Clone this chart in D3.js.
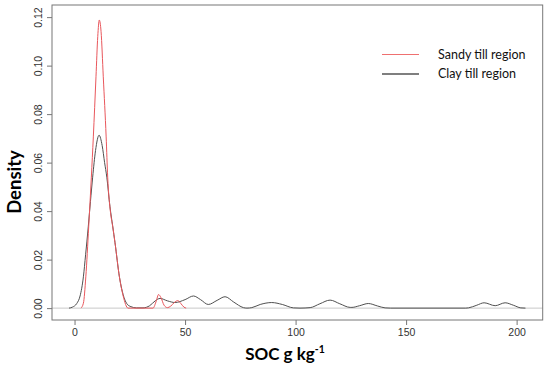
<!DOCTYPE html>
<html>
<head>
<meta charset="utf-8">
<script src="https://cdn.jsdelivr.net/npm/d3@7"></script>
<style>
  body { margin: 0; background: #fff; }
  svg { display: block; }
</style>
</head>
<body>
<div id="chart"></div>
<script>
// density curves (SOC g/kg vs density)
const sandyX = [2.9, 4.0, 5.1, 6.4, 7.6, 8.5, 9.7, 10.5, 11.2, 12.0, 13.0, 14.3, 15.0, 16.2, 17.3, 18.3, 20.3, 22.0, 24.2,
  35.5, 37.0, 38.0, 39.0, 40.5, 42.0, 43.5, 45.0, 46.7, 48.0, 49.5, 50.5];
const sandyDensity = [0, 0.002, 0.0129, 0.0335, 0.054, 0.0706, 0.0954, 0.112, 0.1188, 0.114, 0.0954, 0.0706, 0.054, 0.040, 0.0335, 0.027, 0.0129, 0.005, 0,
  0, 0.003, 0.0056, 0.0045, 0.0012, 0.0002, 0.0008, 0.0022, 0.0031, 0.002, 0.0004, 0];

const clayX = [-2.5, -1.0, 1.0, 2.5, 4.0, 5.0, 6.2, 7.2, 8.2, 9.5, 11.1, 12.5, 13.6, 14.6, 16.0, 17.3, 18.3, 20.3, 22.0, 23.6, 25.5, 28.0,
  31.0, 34.0, 36.5, 38.7, 42.0, 45.5, 50.0, 53.8, 57.0, 60.5, 64.5, 68.1, 72.0, 76.4, 78.0,
  80.2, 84.0, 89.2, 94.0, 99.0, 102.0,
  106.6, 111.0, 115.6, 120.0, 124.7, 125.5, 129.0, 132.9, 137.0, 140.5, 143.0,
  177.0, 178.2, 182.0, 185.3, 190.3, 194.8, 198.5, 201.9, 204.0];
const clayDensity = [0, 0.0004, 0.0019, 0.005, 0.0129, 0.022, 0.0335, 0.044, 0.054, 0.065, 0.0713, 0.067, 0.060, 0.054, 0.042, 0.0335, 0.027, 0.0129, 0.0055, 0.0019, 0.0006, 0.0001,
  0.0001, 0.001, 0.003, 0.004, 0.003, 0.0023, 0.0035, 0.005, 0.0035, 0.0015, 0.0032, 0.0047, 0.0025, 0.0002, 0,
  0.0002, 0.0015, 0.0023, 0.0015, 0.0001, 0,
  0.0002, 0.0018, 0.0033, 0.0018, 0.0003, 0.0003, 0.0010, 0.0019, 0.0009, 0.0001, 0,
  0, 0.0001, 0.0012, 0.0022, 0.001, 0.0022, 0.0012, 0.0001, 0];

const xTicks = [0, 50, 100, 150, 200];
const yTicks = [0, 0.02, 0.04, 0.06, 0.08, 0.10, 0.12];
const seriesNames = ['Sandy till region', 'Clay till region'];

const width = 550, height = 368;
const margin = {top: 5, right: 7.3, bottom: 48, left: 52};

const svg = d3.select('#chart')
  .append('svg')
  .attr('width', width)
  .attr('height', height);

const x = d3.scaleLinear()
  .domain([-10.2, 211.8])
  .range([margin.left, width - margin.right]);

const y = d3.scaleLinear()
  .domain([-0.0049, 0.125])
  .range([height - margin.bottom, margin.top]);

const axisColor = '#777';
const labelFont = '"Liberation Sans", Arial, sans-serif';

// zero line
svg.append('line')
  .attr('x1', x.range()[0]).attr('x2', x.range()[1])
  .attr('y1', y(0)).attr('y2', y(0))
  .attr('stroke', '#c8c8c8')
  .attr('stroke-width', 1);

// x axis
const xAxis = svg.append('g')
  .attr('transform', 'translate(0,' + y.range()[0] + ')')
  .call(d3.axisBottom(x).tickValues(xTicks).tickSize(5).tickPadding(4).tickFormat(d3.format('d')));
xAxis.select('.domain').remove();
xAxis.selectAll('line').attr('stroke', axisColor);
xAxis.selectAll('text')
  .attr('fill', '#333')
  .style('font-family', labelFont)
  .style('font-size', '10.5px');

// y axis, labels rotated as in R
const yAxis = svg.append('g')
  .attr('transform', 'translate(' + x.range()[0] + ',0)')
  .call(d3.axisLeft(y).tickValues(yTicks).tickSize(5).tickFormat(d3.format('.2f')));
yAxis.select('.domain').remove();
yAxis.selectAll('line').attr('stroke', axisColor);
yAxis.selectAll('text')
  .attr('x', 0).attr('dy', 0)
  .attr('transform', 'translate(-10,0) rotate(-90)')
  .attr('text-anchor', 'middle')
  .attr('fill', '#333')
  .style('font-family', labelFont)
  .style('font-size', '10.5px');

// frame
svg.append('rect')
  .attr('x', x.range()[0]).attr('y', y.range()[1])
  .attr('width', x.range()[1] - x.range()[0])
  .attr('height', y.range()[0] - y.range()[1])
  .attr('fill', 'none')
  .attr('stroke', axisColor)
  .attr('stroke-width', 1);

const line = d3.line()
  .defined(d => d[1] > 0 || d.edge)
  .x(d => x(d[0]))
  .y(d => y(d[1]))
  .curve(d3.curveMonotoneX);

function points(xs, ds) {
  return xs.map((v, i) => {
    const p = [v, ds[i]];
    // keep the zero where a curve enters or leaves a bump
    p.edge = ds[i] === 0 && ((i > 0 && ds[i - 1] > 0) || (i < ds.length - 1 && ds[i + 1] > 0));
    return p;
  });
}

svg.append('path')
  .datum(points(clayX, clayDensity))
  .attr('d', line)
  .attr('fill', 'none')
  .attr('stroke', '#505050')
  .attr('stroke-width', 1);

svg.append('path')
  .datum(points(sandyX, sandyDensity))
  .attr('d', line)
  .attr('fill', 'none')
  .attr('stroke', '#e9575c')
  .attr('stroke-width', 1);

// legend
const legend = svg.append('g');
const legendColors = ['#ef7070', '#000'];
seriesNames.forEach((name, i) => {
  const ly = 54.5 + i * 19.5;
  legend.append('line')
    .attr('x1', 382).attr('x2', 419)
    .attr('y1', ly).attr('y2', ly)
    .attr('stroke', legendColors[i])
    .attr('stroke-width', 1.2);
  legend.append('text')
    .attr('x', 438).attr('y', ly + 4.3)
    .attr('fill', '#111')
    .style('font-family', 'Lato, sans-serif')
    .style('font-size', '12.5px')
    .text(name);
});

// axis titles
svg.append('text')
  .attr('transform', 'translate(21,182) rotate(-90)')
  .attr('text-anchor', 'middle')
  .attr('fill', '#000')
  .style('font-family', 'Lato, sans-serif')
  .style('font-weight', 'bold')
  .style('font-size', '18.5px')
  .text('Density');

const xTitle = svg.append('text')
  .attr('x', 285).attr('y', 360)
  .attr('text-anchor', 'middle')
  .attr('fill', '#000')
  .style('font-family', 'Lato, sans-serif')
  .style('font-weight', 'bold')
  .style('font-size', '17px');
xTitle.append('tspan').text('SOC g kg');
xTitle.append('tspan').attr('dy', -7).style('font-size', '10.5px').text('-1');
</script>
</body>
</html>
